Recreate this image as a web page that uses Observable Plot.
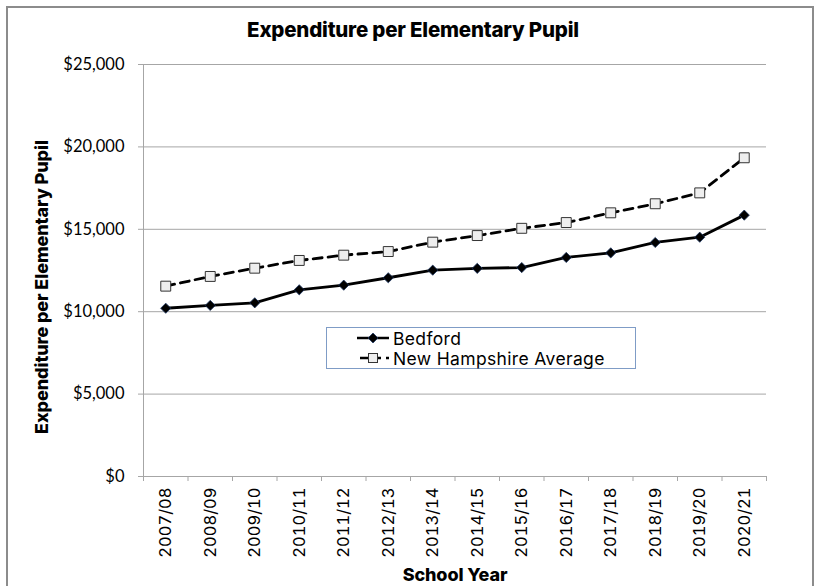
<!DOCTYPE html>
<html>
<head>
<meta charset="utf-8">
<script src="https://cdn.jsdelivr.net/npm/d3@7"></script>
<script src="https://cdn.jsdelivr.net/npm/@observablehq/plot@0.6"></script>
<style>
  html, body { margin: 0; padding: 0; background: #fff; }
  #wrap { position: relative; width: 818px; height: 586px; overflow: hidden; }
  #border { position: absolute; left: 6px; top: 6px; width: 808px; height: 600px; border: 2px solid #8c8c8c; box-sizing: border-box; }
  #chart { position: absolute; left: 0; top: 0; }
  .lbl { position: absolute; font-family: Inter, "Liberation Sans", sans-serif; font-weight: 800; color: #000; white-space: nowrap; line-height: 1.1; }
  #title { left: 413px; top: 30px; font-size: 20.5px; letter-spacing: -0.2px; transform: translate(-50%, -50%); }
  #ytitle { left: 42px; top: 287px; font-size: 18px; letter-spacing: -0.1px; transform: translate(-50%, -50%) rotate(-90deg); }
  #xtitle { left: 455px; top: 575px; font-size: 18px; letter-spacing: -0.1px; transform: translate(-50%, -50%); }
  #legend { position: absolute; left: 326px; top: 327px; width: 310px; height: 42px; border: 1px solid #7f9cc6; box-sizing: border-box; background: #fff; font-family: Inter, "Liberation Sans", sans-serif; font-size: 17.5px; letter-spacing: 0.35px; }
  .row { position: absolute; left: 30px; height: 20px; display: flex; align-items: center; }
  .row svg { margin-right: 4px; }
</style>
</head>
<body>
<div id="wrap">
  <div id="border"></div>
  <div id="chart"></div>
  <div id="title" class="lbl">Expenditure per Elementary Pupil</div>
  <div id="ytitle" class="lbl">Expenditure per Elementary Pupil</div>
  <div id="xtitle" class="lbl">School Year</div>
  <div id="legend">
    <div class="row" style="top:0px">
      <svg width="32" height="14"><line x1="0" x2="32" y1="7" y2="7" stroke="#000" stroke-width="2.5"/><path d="M16,2 L21,7 L16,12 L11,7Z" fill="#000" stroke="#1f3864" stroke-width="0.8"/></svg>
      <span>Bedford</span>
    </div>
    <div class="row" style="top:20px">
      <svg width="32" height="14"><line x1="0" x2="32" y1="7" y2="7" stroke="#000" stroke-width="2.5" stroke-dasharray="8,5" stroke-dashoffset="-3"/><rect x="11.5" y="2.5" width="9" height="9" fill="#eeeeee" stroke="#333" stroke-width="1"/></svg>
      <span>New Hampshire Average</span>
    </div>
  </div>
</div>
<script>
const years = ["2007/08","2008/09","2009/10","2010/11","2011/12","2012/13","2013/14","2014/15","2015/16","2016/17","2017/18","2018/19","2019/20","2020/21"];
const bedford = [10210, 10380, 10540, 11330, 11610, 12060, 12520, 12630, 12680, 13290, 13570, 14200, 14520, 15860];
const nhAverage = [11550, 12140, 12640, 13110, 13430, 13650, 14220, 14620, 15060, 15410, 16000, 16550, 17210, 19340];
const yTicks = [0, 5000, 10000, 15000, 20000, 25000];

const bed = years.map((y, i) => ({i, value: bedford[i]}));
const nh = years.map((y, i) => ({i, value: nhAverage[i]}));
const boundaries = d3.range(years.length + 1).map(k => k - 0.5);
const fmt = d3.format("$,");

const chart = Plot.plot({
  width: 818,
  height: 586,
  marginLeft: 143,
  marginRight: 52,
  marginTop: 64,
  marginBottom: 110,
  x: {type: "linear", domain: [-0.5, years.length - 0.5]},
  y: {domain: [0, 25000]},
  style: {background: "transparent", overflow: "visible"},
  marks: [
    Plot.gridY(yTicks.filter(d => d > 0), {stroke: "#a6a6a6", strokeOpacity: 1, strokeWidth: 1}),
    Plot.ruleY([0], {stroke: "#a6a6a6", strokeWidth: 1}),
    Plot.ruleX([-0.5], {stroke: "#a6a6a6", strokeWidth: 1}),
    Plot.axisY({ticks: yTicks, tickFormat: fmt, tickSize: 5, tickPadding: 14, stroke: "#a6a6a6", fill: "#000", fontSize: 16.5, fontFamily: "Lato, 'Open Sans', sans-serif", label: null}),
    Plot.axisX({ticks: boundaries, tickFormat: () => "", tickSize: 5, stroke: "#a6a6a6", label: null}),
    Plot.axisX({ticks: d3.range(years.length), tickFormat: i => years[i], tickSize: 0, tickPadding: 11, tickRotate: -90, fill: "#000", fontSize: 16.5, fontFamily: "Inter, 'Liberation Sans', sans-serif", label: null}),
    Plot.line(nh, {x: "i", y: "value", stroke: "#000", strokeWidth: 2.8, strokeDasharray: "9,6"}),
    Plot.line(bed, {x: "i", y: "value", stroke: "#000", strokeWidth: 2.8}),
    Plot.dot(nh, {x: "i", y: "value", symbol: "square", r: 5.6, fill: "#eeeeee", stroke: "#333", strokeWidth: 1}),
    Plot.dot(bed, {x: "i", y: "value", symbol: "diamond2", r: 4.6, fill: "#000", stroke: "#1f3864", strokeWidth: 0.8})
  ]
});
document.getElementById("chart").appendChild(chart);
</script>
</body>
</html>
